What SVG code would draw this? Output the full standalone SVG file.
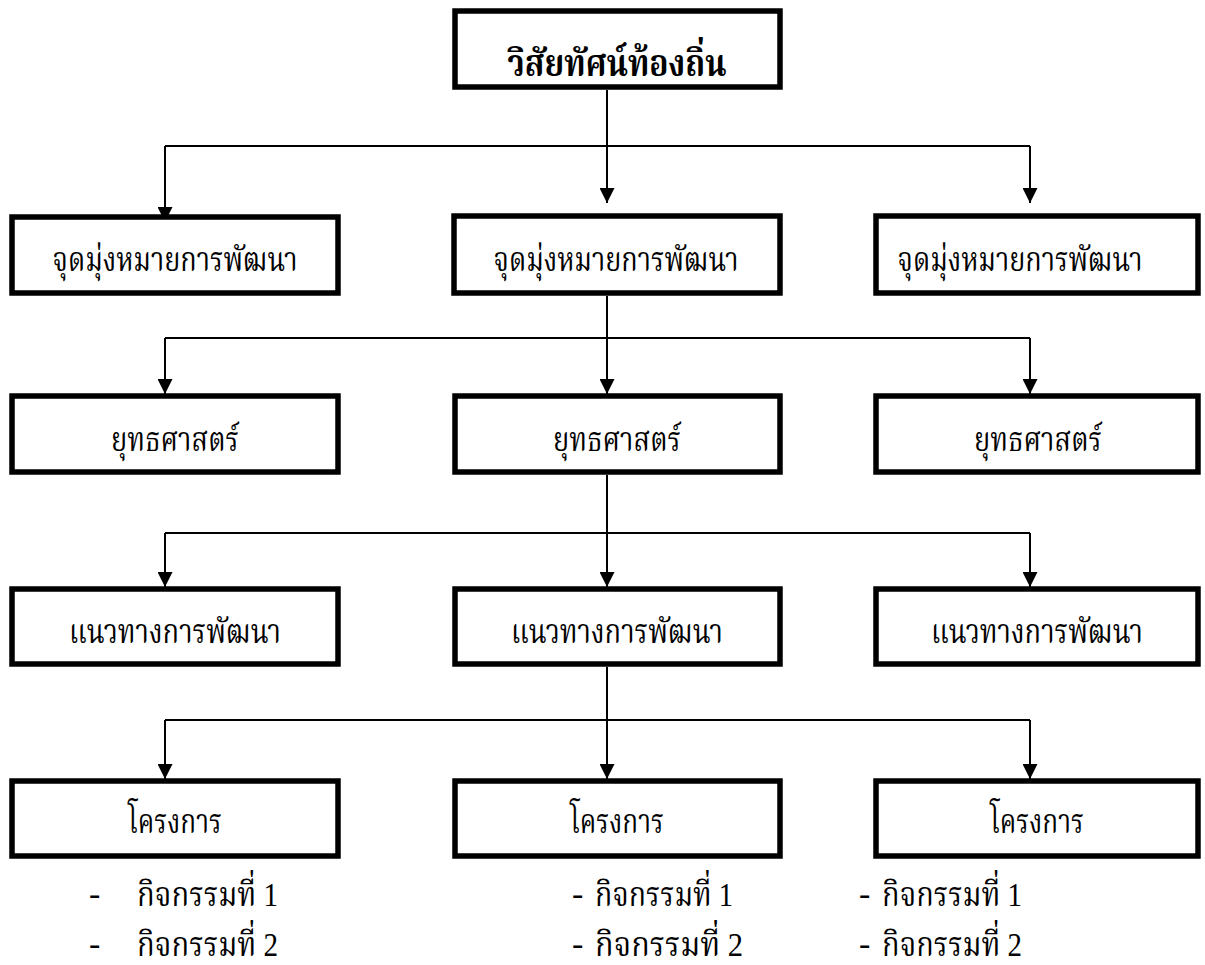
<svg xmlns="http://www.w3.org/2000/svg" width="1205" height="965" viewBox="0 0 1205 965">
<style>
.box{fill:#fff;stroke:#000;stroke-width:5.5}
.t{font-family:"Liberation Serif","Noto Serif Thai","Noto Sans Thai","DejaVu Serif",serif;font-size:34px;fill:#000;text-anchor:middle}
.tl{font-family:"Liberation Serif","Noto Serif Thai","Noto Sans Thai","DejaVu Serif",serif;font-size:34px;fill:#000}
.b{font-weight:bold;font-size:38px}
.c{fill:none;stroke:#000;stroke-width:2}
</style>
<defs>
<marker id="ah" markerUnits="userSpaceOnUse" markerWidth="15" markerHeight="15" refX="15" refY="7.5" orient="auto" viewBox="0 0 15 15">
<path d="M0,0 L15,7.5 L0,15 z" fill="#000"/>
</marker>
</defs>
<g id="connectors">
<path class="c" d="M607,90 V146 M165,146 H1030"/>
<path class="c" d="M165,146 V222" marker-end="url(#ah)"/>
<path class="c" d="M607,146 V203" marker-end="url(#ah)"/>
<path class="c" d="M1030,146 V203" marker-end="url(#ah)"/>
<path class="c" d="M607,296 V338 M165,338 H1030"/>
<path class="c" d="M165,338 V394" marker-end="url(#ah)"/>
<path class="c" d="M607,338 V394" marker-end="url(#ah)"/>
<path class="c" d="M1030,338 V394" marker-end="url(#ah)"/>
<path class="c" d="M607,475 V533 M165,533 H1030"/>
<path class="c" d="M165,533 V587" marker-end="url(#ah)"/>
<path class="c" d="M607,533 V587" marker-end="url(#ah)"/>
<path class="c" d="M1030,533 V587" marker-end="url(#ah)"/>
<path class="c" d="M607,667 V720 M165,720 H1030"/>
<path class="c" d="M165,720 V779" marker-end="url(#ah)"/>
<path class="c" d="M607,720 V779" marker-end="url(#ah)"/>
<path class="c" d="M1030,720 V779" marker-end="url(#ah)"/>
</g>
<g id="vision"><rect class="box" x="455" y="11" width="325" height="76"/><text class="t b" x="617" y="76" textLength="219" lengthAdjust="spacingAndGlyphs">วิสัยทัศน์ท้องถิ่น</text></g>
<g id="goal1"><rect class="box" x="12" y="217" width="326" height="76"/><text class="t" x="175" y="271" textLength="245" lengthAdjust="spacingAndGlyphs">จุดมุ่งหมายการพัฒนา</text></g>
<g id="goal2"><rect class="box" x="454" y="216" width="326" height="77"/><text class="t" x="616" y="271" textLength="245" lengthAdjust="spacingAndGlyphs">จุดมุ่งหมายการพัฒนา</text></g>
<g id="goal3"><rect class="box" x="876" y="216" width="322" height="77"/><text class="t" x="1020" y="271" textLength="245" lengthAdjust="spacingAndGlyphs">จุดมุ่งหมายการพัฒนา</text></g>
<g id="strat1"><rect class="box" x="12" y="396" width="326" height="76"/><text class="t" x="175" y="451" textLength="128" lengthAdjust="spacingAndGlyphs">ยุทธศาสตร์</text></g>
<g id="strat2"><rect class="box" x="455" y="396" width="325" height="76"/><text class="t" x="617" y="451" textLength="128" lengthAdjust="spacingAndGlyphs">ยุทธศาสตร์</text></g>
<g id="strat3"><rect class="box" x="876" y="396" width="322" height="76"/><text class="t" x="1038" y="451" textLength="128" lengthAdjust="spacingAndGlyphs">ยุทธศาสตร์</text></g>
<g id="guide1"><rect class="box" x="12" y="589" width="326" height="75"/><text class="t" x="175" y="643" textLength="212" lengthAdjust="spacingAndGlyphs">แนวทางการพัฒนา</text></g>
<g id="guide2"><rect class="box" x="455" y="589" width="325" height="75"/><text class="t" x="617" y="643" textLength="212" lengthAdjust="spacingAndGlyphs">แนวทางการพัฒนา</text></g>
<g id="guide3"><rect class="box" x="876" y="589" width="322" height="75"/><text class="t" x="1037" y="643" textLength="212" lengthAdjust="spacingAndGlyphs">แนวทางการพัฒนา</text></g>
<g id="proj1"><rect class="box" x="12" y="781" width="326" height="75"/><text class="t" x="175" y="833" textLength="94" lengthAdjust="spacingAndGlyphs">โครงการ</text></g>
<g id="proj2"><rect class="box" x="455" y="781" width="325" height="75"/><text class="t" x="617" y="833" textLength="94" lengthAdjust="spacingAndGlyphs">โครงการ</text></g>
<g id="proj3"><rect class="box" x="876" y="781" width="322" height="75"/><text class="t" x="1037" y="833" textLength="94" lengthAdjust="spacingAndGlyphs">โครงการ</text></g>
<g id="acts1">
<text class="tl" x="89" y="905">-</text><text class="tl" x="137" y="906" textLength="141" lengthAdjust="spacingAndGlyphs">กิจกรรมที่ 1</text>
<text class="tl" x="89" y="955">-</text><text class="tl" x="137" y="956" textLength="141" lengthAdjust="spacingAndGlyphs">กิจกรรมที่ 2</text>
</g>
<g id="acts2">
<text class="tl" x="572" y="905">-</text><text class="tl" x="595" y="906" textLength="138" lengthAdjust="spacingAndGlyphs">กิจกรรมที่ 1</text>
<text class="tl" x="572" y="955">-</text><text class="tl" x="595" y="956" textLength="148" lengthAdjust="spacingAndGlyphs">กิจกรรมที่  2</text>
</g>
<g id="acts3">
<text class="tl" x="859" y="905">-</text><text class="tl" x="882" y="906" textLength="140" lengthAdjust="spacingAndGlyphs">กิจกรรมที่ 1</text>
<text class="tl" x="859" y="955">-</text><text class="tl" x="882" y="956" textLength="140" lengthAdjust="spacingAndGlyphs">กิจกรรมที่ 2</text>
</g>
</svg>
